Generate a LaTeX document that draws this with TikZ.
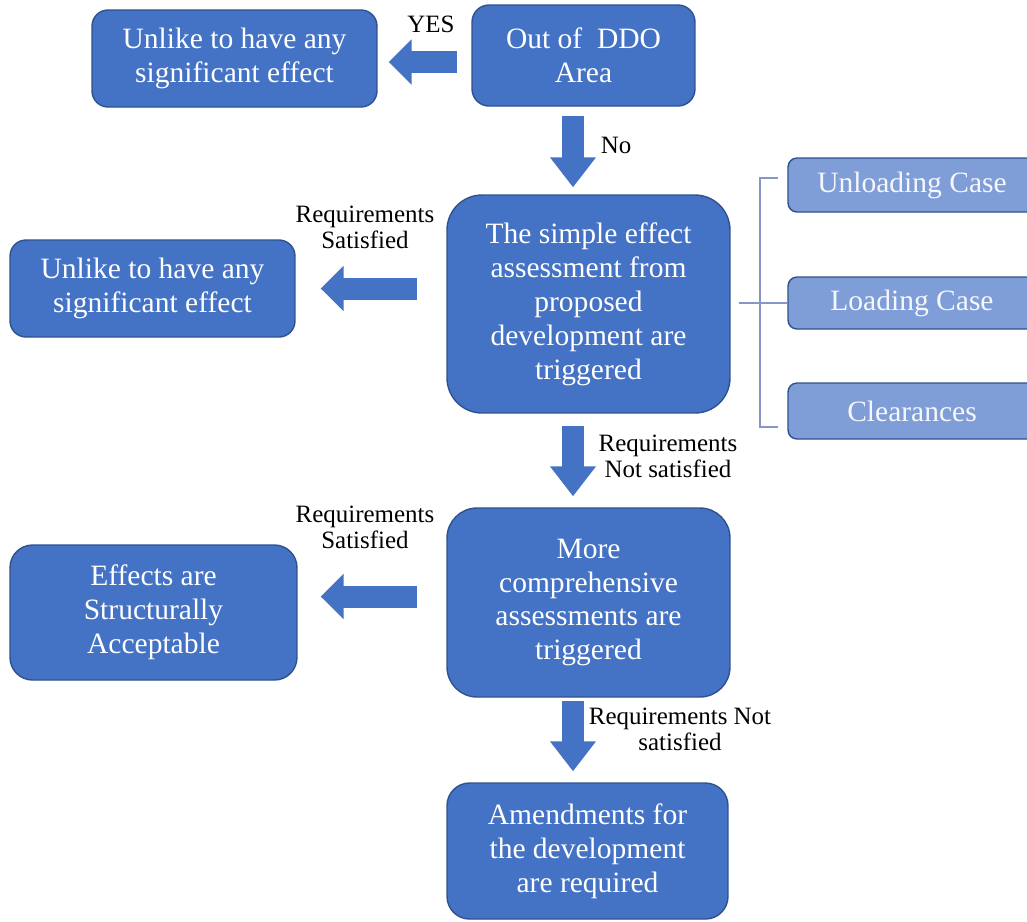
\documentclass[tikz,border=0pt]{standalone}
\usepackage{fontspec}
\IfFontExistsTF{LiberationSerif-Regular.ttf}
  {\setmainfont{LiberationSerif-Regular.ttf}}
  {\setmainfont{Liberation Serif}}
\usepackage{tikz}
\usetikzlibrary{arrows.meta}

\definecolor{boxblue}{HTML}{4472C4}
\definecolor{boxline}{HTML}{2F528F}
\definecolor{caseblue}{HTML}{7F9ED8}
\definecolor{braceblue}{HTML}{8497C8}

\newcommand{\boxfont}{\fontsize{16.8}{19.3}\selectfont}
\newcommand{\notefont}{\fontsize{14.2}{14.8}\selectfont}

\begin{document}
\begin{tikzpicture}[x=0.02cm,y=-0.02cm]

\tikzstyle{stepbox}=[draw=boxline,fill=boxblue,text=white,align=center,font=\boxfont,line width=0.8pt,inner sep=0pt]
\tikzstyle{casebox}=[stepbox,fill=caseblue,text=white!92!caseblue,minimum width=4.96cm]
\tikzstyle{note}=[align=center,font=\notefont,inner sep=0pt]
\tikzstyle{flowh}=[line width=0.44cm,draw=boxblue,-{Triangle[length=0.46cm,width=0.88cm]}]
\tikzstyle{flowv}=[line width=0.44cm,draw=boxblue,-{Triangle[length=0.6cm,width=0.88cm]}]

\fill[white] (0,0) rectangle (1027,921);
\useasboundingbox (0,0) rectangle (1027,921);

%% Main decision chain
\node[stepbox,rounded corners=0.34cm,minimum width=4.46cm,minimum height=2.02cm] (ddo) at (583.5,55.5) {Out of\ \ DDO\\Area};
\node[stepbox,rounded corners=0.7cm,minimum width=5.66cm,minimum height=4.36cm] (simple) at (588.5,304) {The simple effect\\assessment from\\proposed\\development are\\triggered};
\node[stepbox,rounded corners=0.6cm,minimum width=5.66cm,minimum height=3.78cm] (more) at (588.5,602.5) {More\\comprehensive\\assessments are\\triggered};
\node[stepbox,rounded corners=0.45cm,minimum width=5.62cm,minimum height=2.72cm] (amend) at (587.5,851) {Amendments for\\the development\\are required};

%% Outcomes on the left
\node[stepbox,rounded corners=0.32cm,minimum width=5.7cm,minimum height=1.94cm] (noeffA) at (234.5,58.5) {Unlike to have any\\significant effect};
\node[stepbox,rounded corners=0.32cm,minimum width=5.7cm,minimum height=1.94cm] (noeffB) at (152.5,288.5) {Unlike to have any\\significant effect};
\node[stepbox,rounded corners=0.45cm,minimum width=5.74cm,minimum height=2.7cm] (accept) at (153.5,612.5) {Effects are\\Structurally\\Acceptable};

%% Cases checked in the simple assessment
\node[casebox,rounded corners=0.18cm,minimum height=1.08cm] (unload) at (912,185) {Unloading Case};
\node[casebox,rounded corners=0.18cm,minimum height=1.04cm] (loading) at (912,303) {Loading Case};
\node[casebox,rounded corners=0.18cm,minimum height=1.12cm] (clear) at (912,411) {Clearances};

\coordinate (bt) at (778,178);
\coordinate (bb) at (778,427);
\draw[braceblue,line width=0.8pt] (bt) -- ++(-18,0) |- (bb);
\draw[braceblue,line width=0.8pt,shorten <=0.16cm] (loading.west -| simple.east) -- (loading.west);

%% Block arrows
\coordinate (axis) at (573,0);
\coordinate (acc) at ([yshift=0.32cm]accept.east);
\draw[flowh,shorten <=0.28cm,shorten >=0.22cm] ([yshift=-0.13cm]ddo.west) -- ([yshift=-0.13cm]ddo.west -| noeffA.east);
\draw[flowh,shorten <=0.58cm,shorten >=0.5cm] (simple.west |- noeffB.east) -- (noeffB.east);
\draw[flowh,shorten <=0.58cm,shorten >=0.46cm] (more.west |- acc) -- (acc);
\draw[flowv,shorten <=0.18cm,shorten >=0.14cm] (ddo.south -| axis) -- (simple.north -| axis);
\draw[flowv,shorten <=0.24cm,shorten >=0.22cm] (simple.south -| axis) -- (more.north -| axis);
\draw[flowv,shorten <=0.06cm,shorten >=0.22cm] (more.south -| axis) -- (amend.north -| axis);

%% Arrow labels
\node[note] (yes) at (431,24) {YES};
\node[note] (no) at (616,145) {No};
\node[note] (sat1) at (365,227) {Requirements\\Satisfied};
\node[note] (notsat1) at (668,456) {Requirements\\Not satisfied};
\node[note] (sat2) at (365,527) {Requirements\\Satisfied};
\node[note] (notsat2) at (680,729) {Requirements Not\\satisfied};

\end{tikzpicture}
\end{document}
